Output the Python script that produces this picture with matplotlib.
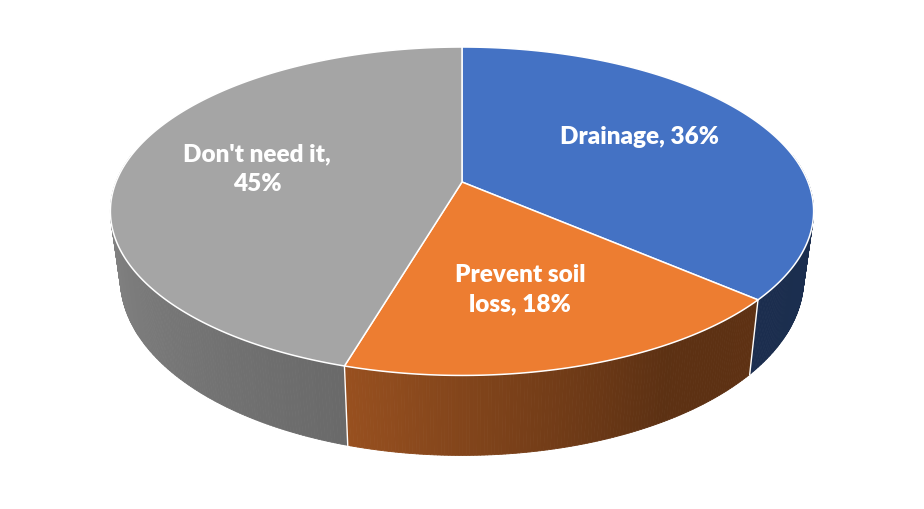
import numpy as np, matplotlib
matplotlib.use("Agg")
import matplotlib.pyplot as plt
from matplotlib.collections import PolyCollection
from matplotlib.colors import to_rgb

# data
labels = ["Drainage", "Prevent soil loss", "Don't need it"]
values = [36, 18, 45]
label_text = ["Drainage, 36%", "Prevent soil\nloss, 18%", "Don't need it,\n45%"]
top_colors = ["#4472C4", "#ED7D31", "#A5A5A5"]
label_pos = [(640, 137), (520, 290), (257, 169)]

# 3d pie geometry (pixels), perspective-ish projection of a tilted disc
CX, CY = 462, 183
A, B, K = 346, 159, 0.178
SB = 0.972  # bottom rim a bit narrower

def proj(t, z=0):
    r = np.radians(t)
    u, v = np.sin(r), -np.cos(r)
    w = 1 - K*v
    x = A*u/w
    y = B*v/w + z*(64 + 16*v)
    if z: x = x*SB
    return CX + x, CY + y

def shade(t):
    return np.interp(t, [90, 150, 196, 270], [0.41, 0.39, 0.64, 0.82])

frac = np.array(values, float)/np.sum(values)
edges = np.concatenate([[0], np.cumsum(frac)*360])

fig = plt.figure(figsize=(9.24, 5.10), dpi=100)
ax = fig.add_axes([0, 0, 1, 1])
ax.set_xlim(0, 924); ax.set_ylim(510, 0); ax.axis("off")

# side walls (front half only), drawn back to front
polys, cols, keys = [], [], []
for i in range(len(values)):
    a0, a1 = max(edges[i], 80), min(edges[i+1], 280)
    if a1 <= a0: continue
    ts = np.arange(a0, a1, 0.5).tolist() + [a1]
    base = np.array(to_rgb(top_colors[i]))
    for t0, t1 in zip(ts[:-1], ts[1:]):
        p = [proj(t0), proj(t1), proj(t1, 1), proj(t0, 1)]
        polys.append(p)
        cols.append(np.clip(base*shade(0.5*(t0+t1)), 0, 1))
        keys.append(-np.cos(np.radians(0.5*(t0+t1))))
order = np.argsort(keys)
pc = PolyCollection([polys[j] for j in order], facecolors=[cols[j] for j in order],
                    edgecolors=[cols[j] for j in order], linewidths=0.6)
ax.add_collection(pc)

# white seams on the wall at slice borders
for e in edges[1:-1]:
    if 90 < e < 270:
        (x0, y0), (x1, y1) = proj(e), proj(e, 1)
        ax.plot([x0, x1], [y0, y1], color="white", lw=1.0)

# top faces
for i in range(len(values)):
    ts = np.linspace(edges[i], edges[i+1], 300)
    xs, ys = proj(ts)
    ax.fill(np.r_[CX, xs], np.r_[CY, ys], color=top_colors[i], ec="white", lw=1.1,
            joinstyle="round")

for txt, (x, y) in zip(label_text, label_pos):
    ax.text(x, y, txt, color="white", fontsize=17.5, fontweight="heavy", family="Lato",
            ha="center", va="center", linespacing=1.4)

plt.savefig("out.png", dpi=100)
